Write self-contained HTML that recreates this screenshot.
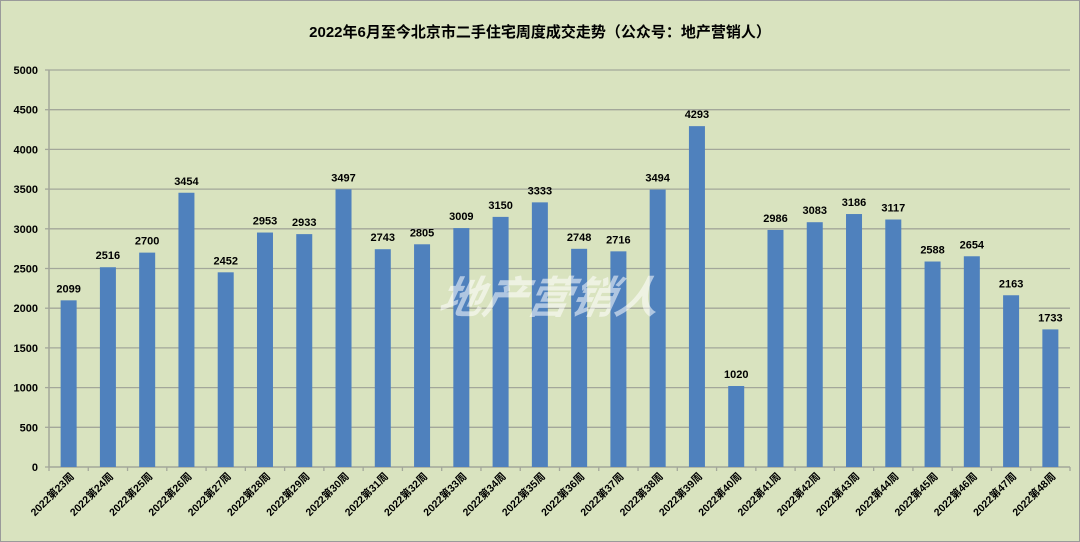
<!DOCTYPE html>
<html><head><meta charset="utf-8"><style>
html,body{margin:0;padding:0;background:#d9e3bf}
svg{display:block}
</style></head><body>
<svg width="1080" height="542" xmlns="http://www.w3.org/2000/svg" font-family="'Liberation Sans','Noto Sans CJK SC',sans-serif">
<rect x="0.5" y="0.5" width="1079" height="541" fill="#d9e3bf" stroke="#9a9a9a"/>
<text x="540" y="37" text-anchor="middle" font-size="15" font-weight="bold" fill="#000">2022年6月至今北京市二手住宅周度成交走势（公众号：地产营销人）</text>
<g id="grid"></g>
<g id="bars"></g>
<script>
var d=[2099,2516,2700,3454,2452,2953,2933,3497,2743,2805,3009,3150,3333,2748,2716,3494,4293,1020,2986,3083,3186,3117,2588,2654,2163,1733];
var ns='http://www.w3.org/2000/svg',g=document.getElementById('grid'),b=document.getElementById('bars');
function el(p,t,a,txt){var e=document.createElementNS(ns,t);for(var k in a)e.setAttribute(k,a[k]);if(txt!=null)e.textContent=txt;p.appendChild(e);return e;}
var x0=49,x1=1070,y0=467,s=397/5000,w=(x1-x0)/26;
for(var v=0;v<=5000;v+=500){var y=y0-v*s;
 if(v>0)el(g,'line',{x1:x0,x2:x1,y1:y,y2:y,stroke:'#a3a79a','stroke-width':1.3});
 el(g,'line',{x1:x0-4,x2:x0,y1:y,y2:y,stroke:'#a3a79a','stroke-width':1.3});
 el(g,'text',{x:38,y:y+4,'text-anchor':'end','font-size':11,'font-weight':'bold',fill:'#000'},String(v));}
el(g,'line',{x1:x0,x2:x0,y1:70,y2:y0,stroke:'#a3a79a','stroke-width':1.5});
el(g,'line',{x1:x0,x2:x1,y1:y0,y2:y0,stroke:'#a3a79a','stroke-width':1.5});
for(var i=0;i<=26;i++){var tx=x0+w*i;el(g,'line',{x1:tx,x2:tx,y1:y0,y2:y0+4,stroke:'#a3a79a','stroke-width':1.3});}
for(var i=0;i<26;i++){var c=x0+w*(i+0.5),h=d[i]*s;
 el(b,'rect',{x:c-8,y:y0-h,width:16,height:h,fill:'#4f81bd'});
 el(b,'text',{x:c,y:y0-h-8,'text-anchor':'middle','font-size':11,'font-weight':'bold',fill:'#000'},String(d[i]));
 el(b,'text',{x:c+6,y:y0+10,'text-anchor':'end','font-size':10.5,'font-weight':'bold',fill:'#000',transform:'rotate(-45 '+(c+6)+' '+(y0+10)+')'},'2022第'+(23+i)+'周');}
el(b,'text',{x:550,y:313,'text-anchor':'middle','font-size':44,'font-weight':'bold','font-style':'italic',fill:'#ffffff','fill-opacity':0.55,transform:'skewX(-12) translate(63 0)'},'地产营销人');
</script>
</svg>
</body></html>
